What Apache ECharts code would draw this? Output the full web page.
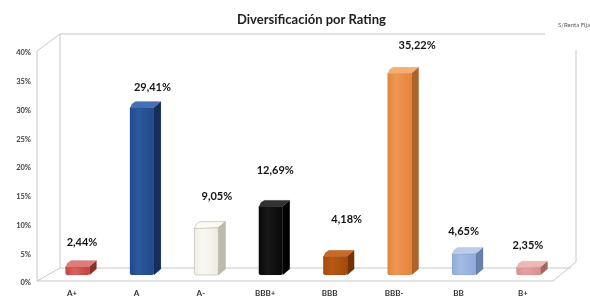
<!DOCTYPE html>
<html>
<head>
<meta charset="utf-8">
<script src="https://cdn.jsdelivr.net/npm/echarts@6/dist/echarts.min.js"></script>
<style>
html,body{margin:0;padding:0;background:#fff;}
#c{width:590px;height:301px;}
</style>
</head>
<body>
<div id="c"></div>
<script>
// ---- data ----
const categories = ['A+', 'A', 'A-', 'BBB+', 'BBB', 'BBB-', 'BB', 'B+'];
const values = [2.44, 29.41, 9.05, 12.69, 4.18, 35.22, 4.65, 2.35];
const yTickMin = 0, yTickMax = 40, yTickStep = 5;
const titleText = 'Diversificación por Rating';
const noteText = 'S/Renta Fija';

// ---- styling (kept separate from data) ----
const barColors = [
  {front:'#c4433f', light:'#d8625e', side:'#8e2d2a', top:'#e07c78'},
  {front:'#21498a', light:'#2c5a9e', side:'#152f5c', top:'#4570b3'},
  {front:'#efede1', light:'#faf9f1', side:'#bdbbae', top:'#fbfaf4'},
  {front:'#070707', light:'#181818', side:'#000000', top:'#333333'},
  {front:'#a44a0b', light:'#b85914', side:'#733306', top:'#c86a24'},
  {front:'#e5843b', light:'#ee9753', side:'#b3612a', top:'#f4ae72'},
  {front:'#8eaadb', light:'#a3bce4', side:'#6780ad', top:'#bccdec'},
  {front:'#d98e8d', light:'#e4a3a2', side:'#a46462', top:'#edb7b6'}
];
const labelDx = [1, 7, 7, 1, 8, 14, -4, -4];
const labelGap = [18, 14, 25, 30, 31, 22, 16, 16];

const fmt = v => v.toFixed(2).replace('.', ',') + '%';

const chart = echarts.init(document.getElementById('c'), null, {renderer: 'canvas'});

const wallColor = '#c8c8c8';
const wallLines = [
  [[37,51],[37,281]],
  [[37,51],[60,34]],
  [[60,34],[60,268]],
  [[60,34],[545,34]],
  [[576,50],[576,262]],
  [[553,281],[576,262]],
  [[37,281],[553,281]],
  [[60,268],[571,268]],
  [[37,281],[60,268]]
];

const option = {
  backgroundColor: '#ffffff',
  animation: false,
  title: [
    {text: titleText, left: 232, top: 8,
     textStyle: {fontFamily: 'Lato', fontWeight: 'bold', fontSize: 13, color: '#1e1e1e'}},
    {text: noteText, left: 553, top: 17,
     textStyle: {fontFamily: 'Lato', fontWeight: 'normal', fontSize: 6, color: '#555555'}}
  ],
  graphic: wallLines.map(l => ({
    type: 'line', z: 0, silent: true,
    shape: {x1: l[0][0], y1: l[0][1], x2: l[1][0], y2: l[1][1]},
    style: {stroke: wallColor, lineWidth: 1}
  })),
  grid: [
    {left: 48.8, width: 515.4, top: 39, bottom: 26},
    {left: 34, width: 500, top: 53, bottom: 18}
  ],
  xAxis: [
    {type: 'category', gridIndex: 0, data: categories,
     axisLine: {show: false}, axisTick: {show: false}, splitLine: {show: false},
     axisLabel: {margin: 14, fontFamily: 'Lato', fontWeight: 'bold', fontSize: 8, color: '#333333',
                 padding: [0, 18, 0, 0]}},
    {type: 'category', gridIndex: 1, data: categories, show: false}
  ],
  yAxis: [
    {type: 'value', gridIndex: 0, min: yTickMin, max: yTickMax, interval: yTickStep, show: false},
    {type: 'value', gridIndex: 1, min: yTickMin, max: yTickMax, interval: yTickStep,
     axisLine: {show: false}, axisTick: {show: false}, splitLine: {show: false},
     axisLabel: {margin: 3, formatter: '{value}%', fontFamily: 'Lato', fontWeight: 'bold', fontSize: 7.5, color: '#404040'}}
  ],
  series: [{
    type: 'custom',
    xAxisIndex: 0, yAxisIndex: 0,
    data: values.map((v, i) => [i, v]),
    z: 5,
    renderItem: function (params, api) {
      const i = params.dataIndex;
      const v = api.value(1);
      const top = api.coord([i, v]);
      const base = api.coord([i, 0]);
      const cx = top[0];
      const w = 24, d = 7, dy = 6;
      const x0 = cx - 15.5, x1 = x0 + w;
      const yTop = top[1] + dy;
      const yB = base[1];
      const c = barColors[i];
      const frontFill = new echarts.graphic.LinearGradient(0, 0, 1, 0, [
        {offset: 0, color: c.front},
        {offset: 0.35, color: c.light},
        {offset: 1, color: c.front}
      ]);
      const stroke = i === 2 ? '#a9a79b' : 'rgba(0,0,0,0.15)';
      return {
        type: 'group',
        children: [
          {type: 'polygon', shape: {points: [[x1, yB], [x1, yTop], [x1 + d, yTop - dy], [x1 + d, yB - dy]]},
           style: {fill: c.side, stroke: stroke, lineWidth: 0.5}},
          {type: 'rect', shape: {x: x0, y: yTop, width: w, height: yB - yTop, r: [0, 0, 2, 2]},
           style: {fill: frontFill, stroke: stroke, lineWidth: 0.5}},
          {type: 'polygon', shape: {points: [[x0, yTop + 1], [x0 + 2, yTop - dy * 0.6], [x0 + d * 0.8, yTop - dy], [x1 + d, yTop - dy], [x1, yTop]]},
           style: {fill: c.top, stroke: stroke, lineWidth: 0.5}},
          {type: 'text', z2: 10,
           style: {text: fmt(v), x: cx + labelDx[i], y: top[1] - labelGap[i],
                   align: 'center', verticalAlign: 'middle',
                   font: 'bold 11px Lato', fill: '#141414'}}
        ]
      };
    }
  }]
};
chart.setOption(option);
</script>
</body>
</html>
